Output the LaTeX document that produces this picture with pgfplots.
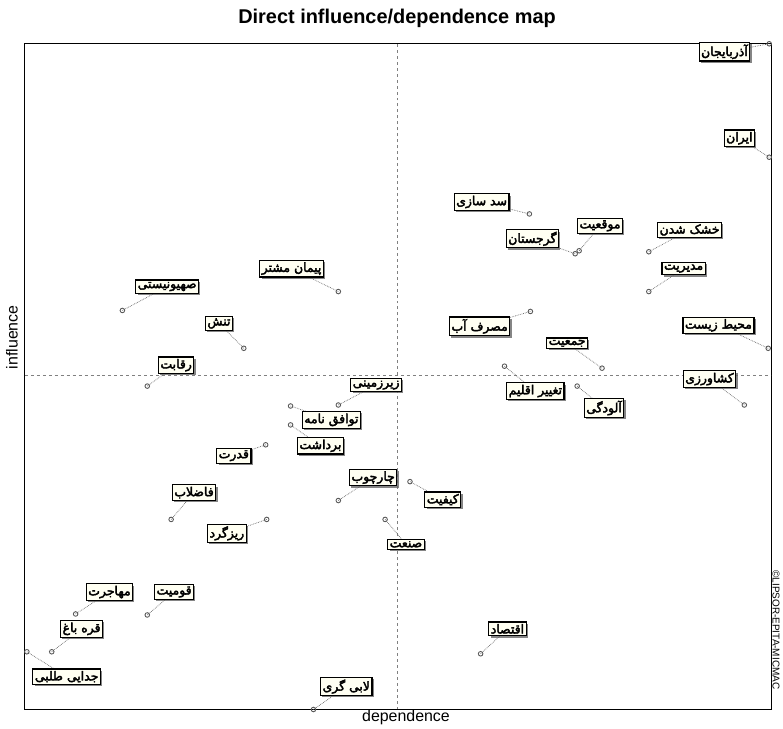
\documentclass[border=0pt]{standalone}
\usepackage{pgfplots}
\pgfplotsset{compat=1.18}
\usepackage{pgfplotstable}
\usepackage{fontspec}
\setmainfont{Liberation Sans}
\setsansfont{Liberation Sans}
\newfontfamily\arabicfont[Script=Arabic, FakeBold=3]{DejaVu Sans}
\TeXXeTstate=1
\usetikzlibrary{shadows}
\definecolor{boxfill}{HTML}{FFFFF2}
\newcommand{\ar}[1]{{\arabicfont\beginR #1\endR}}

% point coordinates (px-like units)
\pgfplotstableread{
x y
773 685
773 571
532 514
578 474
582 477
652 476
652 436
533 416
605 359
772 379
748 322
507 361
580 341
123 417
340 436
245 379
148 341
340 322
292 321
292 302
267 282
340 226
412 245
172 207
268 207
387 207
76 112
148 111
52 74
27 74
315 16
483 72
}\points

\begin{document}
\begin{tikzpicture}[
  lab/.style={draw=black, line width=1.2pt, fill=boxfill, inner xsep=2pt, inner ysep=2pt,
    font=\fontsize{12.5}{14}\selectfont,
    drop shadow={shadow xshift=1.8pt, shadow yshift=-1.8pt, fill=black!60, opacity=0.8}},
]
\begin{axis}[
  x=1pt, y=1pt,
  xmin=25, xmax=775, ymin=16, ymax=685,
  axis line style={line width=0.9pt, black},
  ticks=none,
  clip=false,
]
% bounding region of the whole figure
\path (axis cs:0,0) (axis cs:783,729);

% quadrant lines
\addplot[dashed, black!50, line width=0.45pt, forget plot] coordinates {(399,16) (399,685)};
\addplot[dashed, black!50, line width=0.45pt, forget plot] coordinates {(25,352) (775,352)};

% leader lines (point -> label)
\pgfplotsset{leader/.style={densely dotted, black!60, line width=0.7pt, forget plot}}
\addplot[leader] coordinates {(773,685) (730,677)};
\addplot[leader] coordinates {(773,571) (743,590)};
\addplot[leader] coordinates {(532,514) (484,526)};
\addplot[leader] coordinates {(578,474) (535,489)};
\addplot[leader] coordinates {(582,477) (603,502)};
\addplot[leader] coordinates {(652,476) (693,498)};
\addplot[leader] coordinates {(652,436) (687,459)};
\addplot[leader] coordinates {(533,416) (482,401)};
\addplot[leader] coordinates {(605,359) (570,384)};
\addplot[leader] coordinates {(772,379) (723,402)};
\addplot[leader] coordinates {(748,322) (713,348)};
\addplot[leader] coordinates {(507,361) (538,336)};
\addplot[leader] coordinates {(580,341) (607,319)};
\addplot[leader] coordinates {(123,417) (168,441)};
\addplot[leader] coordinates {(340,436) (293,459)};
\addplot[leader] coordinates {(245,379) (220,404)};
\addplot[leader] coordinates {(148,341) (177,362)};
\addplot[leader] coordinates {(340,322) (378,342)};
\addplot[leader] coordinates {(292,321) (333,307)};
\addplot[leader] coordinates {(292,302) (322,281)};
\addplot[leader] coordinates {(267,282) (235,271)};
\addplot[leader] coordinates {(340,226) (375,249)};
\addplot[leader] coordinates {(412,245) (445,227)};
\addplot[leader] coordinates {(172,207) (195,234)};
\addplot[leader] coordinates {(268,207) (228,193)};
\addplot[leader] coordinates {(387,207) (408,182)};
\addplot[leader] coordinates {(76,112) (110,134)};
\addplot[leader] coordinates {(148,111) (175,134)};
\addplot[leader] coordinates {(52,74) (82,97)};
\addplot[leader] coordinates {(27,74) (67,49)};
\addplot[leader] coordinates {(315,16) (348,39)};
\addplot[leader] coordinates {(483,72) (510,97)};

% the variables
\addplot[only marks, mark=o, mark size=2.3pt, black!65, mark options={line width=0.9pt, fill=white}] table {\points};

% labels
\node[lab] at (axis cs:728,677) {\ar{آذربایجان}};
\node[lab] at (axis cs:743,590) {\ar{ایران}};
\node[lab] at (axis cs:484,526) {\ar{سد سازی}};
\node[lab] at (axis cs:535,489) {\ar{گرجستان}};
\node[lab] at (axis cs:603,502) {\ar{موقعیت}};
\node[lab] at (axis cs:693,498) {\ar{خشک شدن}};
\node[lab] at (axis cs:687,459) {\ar{مدیریت}};
\node[lab] at (axis cs:482,401) {\ar{مصرف آب}};
\node[lab] at (axis cs:570,384) {\ar{جمعیت}};
\node[lab] at (axis cs:722,402) {\ar{محیط زیست}};
\node[lab] at (axis cs:713,348) {\ar{کشاورزی}};
\node[lab] at (axis cs:538,336) {\ar{تغییر اقلیم}};
\node[lab] at (axis cs:607,319) {\ar{آلودگی}};
\node[lab] at (axis cs:168,441) {\ar{صهیونیستی}};
\node[lab] at (axis cs:293,459) {\ar{پیمان مشتر}};
\node[lab] at (axis cs:220,404) {\ar{تنش}};
\node[lab] at (axis cs:177,362) {\ar{رقابت}};
\node[lab] at (axis cs:378,342) {\ar{زیرزمینی}};
\node[lab] at (axis cs:333,307) {\ar{توافق نامه}};
\node[lab] at (axis cs:322,281) {\ar{برداشت}};
\node[lab] at (axis cs:235,271) {\ar{قدرت}};
\node[lab] at (axis cs:375,249) {\ar{چارچوب}};
\node[lab] at (axis cs:445,227) {\ar{کیفیت}};
\node[lab] at (axis cs:195,234) {\ar{فاضلاب}};
\node[lab] at (axis cs:228,193) {\ar{ریزگرد}};
\node[lab] at (axis cs:408,182) {\ar{صنعت}};
\node[lab] at (axis cs:110,134) {\ar{مهاجرت}};
\node[lab] at (axis cs:175,134) {\ar{قومیت}};
\node[lab] at (axis cs:82,97) {\ar{قره باغ}};
\node[lab] at (axis cs:67,49) {\ar{جدایی طلبی}};
\node[lab] at (axis cs:348,39) {\ar{لابی گری}};
\node[lab] at (axis cs:510,97) {\ar{اقتصاد}};

% titles and axis names
\node[font=\fontsize{20}{22}\selectfont\bfseries] at (axis cs:399,711) {Direct influence/dependence map};
\node[font=\fontsize{16}{18}\selectfont] at (axis cs:408,8) {dependence};
\node[font=\fontsize{16}{18}\selectfont, rotate=90] at (axis cs:12,390) {influence};
\node[font=\fontsize{10}{11}\selectfont, rotate=-90] at (axis cs:780,96) {\textcopyright LIPSOR-EPITA-MICMAC};
\end{axis}
\end{tikzpicture}
\end{document}
